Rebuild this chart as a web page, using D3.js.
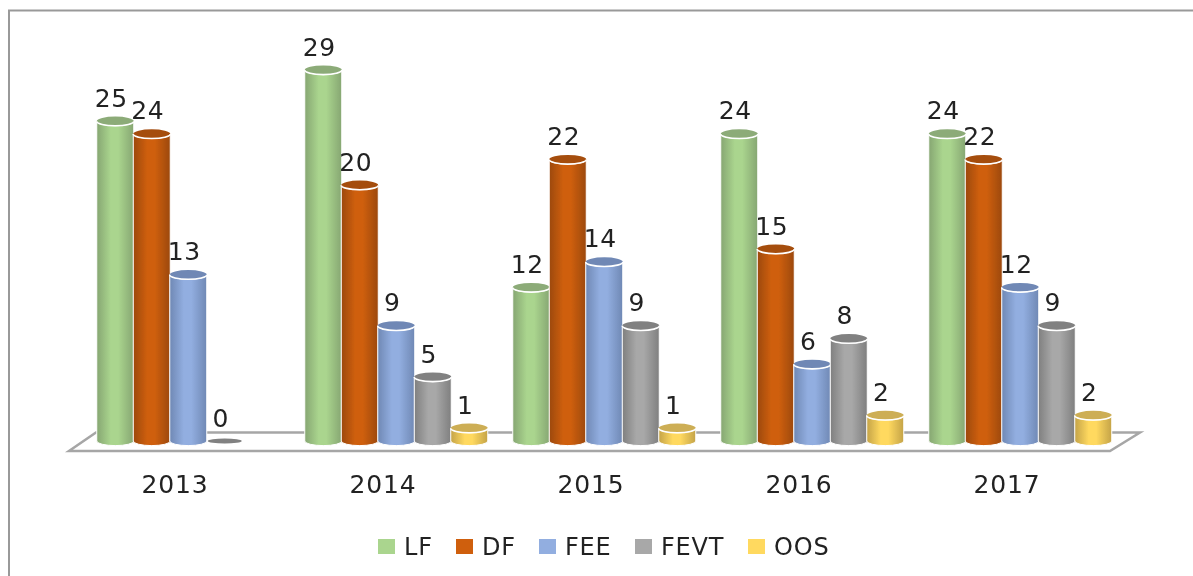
<!DOCTYPE html>
<html><head><meta charset="utf-8">
<script src="https://cdn.jsdelivr.net/npm/d3@7/dist/d3.min.js"></script>
<style>html,body{margin:0;padding:0;background:#fff}svg{display:block}
text{font-family:"DejaVu Sans",sans-serif;fill:#222}</style></head>
<body><div id="chart"></div>
<script>
const years = ["2013","2014","2015","2016","2017"];
const seriesNames = ["LF","DF","FEE","FEVT","OOS"];
const LF = [25,29,12,24,24];
const DF = [24,20,22,15,22];
const FEE = [13,9,14,6,12];
const FEVT = [0,5,9,8,9];
const OOS = [null,1,1,2,2];
const seriesValues = [LF,DF,FEE,FEVT,OOS];
const mainColors = ["#AAD58E","#CF5F0E","#92AEE0","#A8A8A8","#FFD95F"];
const edgeColors = ["#86A672","#9C490C","#6F88B4","#7F7F7F","#C4A348"];
const capColors  = ["#8CAB78","#A54E10","#6F88B5","#818181","#CDAE54"];
const legendX = [378,456,539,635,748];

const W=1193,H=576;
const svg=d3.select("#chart").append("svg").attr("width",W).attr("height",H);
const defs=svg.append("defs");
defs.append("filter").attr("id","soft").attr("x","-5%").attr("y","-5%").attr("width","110%").attr("height","110%")
  .append("feGaussianBlur").attr("stdDeviation",0.5);
seriesNames.forEach((s,i)=>{
  const g=defs.append("linearGradient").attr("id","g"+i);
  [[0,edgeColors[i]],[0.38,mainColors[i]],[0.58,mainColors[i]],[1,edgeColors[i]]].forEach(([o,c])=>
    g.append("stop").attr("offset",o).attr("stop-color",c));
});
const root=svg.append("g").attr("filter","url(#soft)");

// chart frame: left and top edges only
root.append("path").attr("d",`M9 ${H}V10.5H${W}`).attr("fill","none").attr("stroke","#999").attr("stroke-width",2);

// floor
root.append("path").attr("d","M96 432.5H1140L1110 451H69Z").attr("fill","#fff").attr("stroke","#a6a6a6").attr("stroke-width",2.5);

const x0=d3.scaleBand().domain(years).range([97,97+208*5]);
const x1=d3.scaleBand().domain(seriesNames).range([0,182.5]);
const y=d3.scaleLinear().domain([0,29]).range([441,70]);
const rx=18.5, ry=4.6;

const rows=[];
seriesNames.forEach((s,i)=>years.forEach((yr,j)=>{
  if(seriesValues[i][j]!==null) rows.push({s,i,yr,v:seriesValues[i][j]});
}));
const cx=d=>x0(d.yr)+x1(d.s)+x1.bandwidth()/2;

const bars=root.append("g").selectAll("g").data(rows).join("g");
bars.filter(d=>d.v>0).append("path")
  .attr("d",d=>{const c=cx(d),t=y(d.v),b=y(0);
    return `M${c-rx} ${t}A${rx} ${ry} 0 0 0 ${c+rx} ${t}V${b}A${rx} ${ry} 0 0 1 ${c-rx} ${b}Z`;})
  .attr("fill",d=>`url(#g${d.i})`).attr("stroke","#fff").attr("stroke-width",1);
bars.append("ellipse")
  .attr("cx",cx).attr("cy",d=>y(d.v))
  .attr("rx",d=>d.v>0?rx:17).attr("ry",d=>d.v>0?ry:2.6)
  .attr("fill",d=>capColors[d.i]);
bars.filter(d=>d.v>0).append("path")
  .attr("d",d=>{const c=cx(d),t=y(d.v);return `M${c-rx} ${t}A${rx} ${ry} 0 0 0 ${c+rx} ${t}`;})
  .attr("fill","none").attr("stroke","#fff").attr("stroke-width",1.6);

// value labels
root.append("g").selectAll("text").data(rows).join("text")
  .attr("x",d=>cx(d)-4).attr("y",d=>y(d.v)-23)
  .attr("text-anchor","middle").attr("dominant-baseline","central")
  .attr("font-size",25).attr("letter-spacing",0.5).text(d=>d.v);

// category axis
const axis=root.append("g").attr("transform","translate(-26,475)").call(d3.axisBottom(x0).tickSize(0).tickPadding(0));
axis.select(".domain").remove();
axis.selectAll("text").attr("y",0).attr("dy",null).attr("dominant-baseline","hanging")
  .attr("font-size",25).attr("letter-spacing",0.8).style("font-family",'"DejaVu Sans",sans-serif').attr("fill","#222");

// legend
const leg=root.append("g").selectAll("g").data(seriesNames).join("g")
  .attr("transform",(d,i)=>`translate(${legendX[i]},539)`);
leg.append("rect").attr("width",17).attr("height",15).attr("fill",(d,i)=>mainColors[i]);
leg.append("text").attr("x",26).attr("y",8).attr("dominant-baseline","central")
  .attr("font-size",24).attr("letter-spacing",0.8).text(d=>d);
</script></body></html>
